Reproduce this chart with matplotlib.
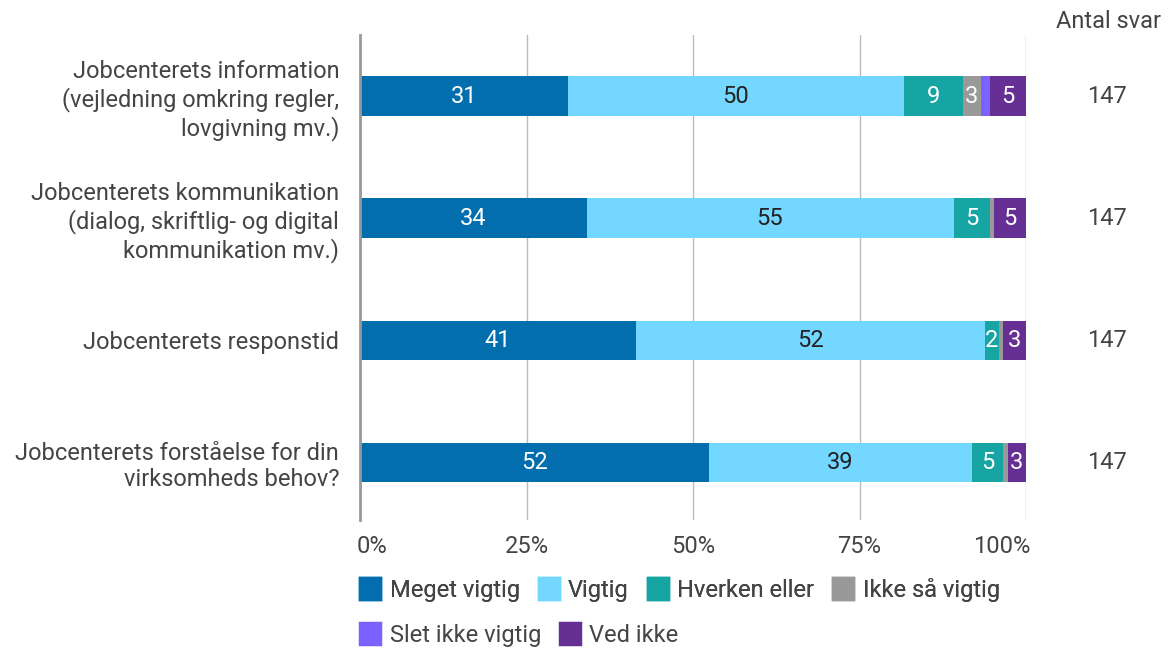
import matplotlib
matplotlib.use("Agg")
import matplotlib.pyplot as plt
import matplotlib.transforms as mtransforms
from matplotlib.patches import Patch
import numpy as np

plt.rcParams['font.family'] = ['Roboto', 'DejaVu Sans']

# 1. Data (number of answers per category, 147 per question)
questions = [
    "Jobcenterets information\n(vejledning omkring regler,\nlovgivning mv.)",
    "Jobcenterets kommunikation\n(dialog, skriftlig- og digital\nkommunikation mv.)",
    "Jobcenterets responstid",
    "Jobcenterets forståelse for din\nvirksomheds behov?",
]
series = ["Meget vigtig", "Vigtig", "Hverken eller", "Ikke så vigtig",
          "Slet ikke vigtig", "Ved ikke"]
meget_vigtig = [46, 50, 61, 77]
vigtig = [74, 81, 77, 58]
hverken_eller = [13, 8, 3, 7]
ikke_saa_vigtig = [4, 1, 1, 1]
slet_ikke_vigtig = [2, 0, 0, 0]
ved_ikke = [8, 7, 5, 4]
antal_svar = [147, 147, 147, 147]

colors = ["#036EAD", "#73D7FF", "#16A5A2", "#999999", "#7B61FF", "#652F94"]
label_colors = ["white", "#222222", "white", "white", "white", "white"]
text_col = "#444444"
fs = 17

counts = np.array([meget_vigtig, vigtig, hverken_eller, ikke_saa_vigtig,
                   slet_ikke_vigtig, ved_ikke], dtype=float)
pct = counts / np.array(antal_svar) * 100

# 2. Figure
fig = plt.figure(figsize=(11.71, 6.52), dpi=100)
ax = fig.add_axes([360 / 1171, 1 - 520 / 652, 666 / 1171, 485 / 652])

y = np.arange(len(questions))
left = np.zeros(len(questions))
for i, name in enumerate(series):
    ax.barh(y, pct[i], left=left, height=0.32, color=colors[i], label=name, zorder=3)
    for j in range(len(questions)):
        v = round(pct[i][j])
        if v >= 2:
            ax.text(left[j] + pct[i][j] / 2, y[j], str(v), ha="center", va="center",
                    color=label_colors[i], fontsize=fs, zorder=4)
    left += pct[i]

ax.set_xlim(0, 100)
ax.set_ylim(3.475, -0.5)
ax.set_xticks([0, 25, 50, 75, 100])
ax.set_xticklabels(["0%", "25%", "50%", "75%", "100%"])
ax.set_yticks(y)
ax.set_yticklabels(questions)
ax.tick_params(axis="both", length=0, labelsize=fs, labelcolor=text_col)
ax.tick_params(axis="x", pad=11)
ax.tick_params(axis="y", pad=15)
for lab in ax.get_yticklabels():
    lab.set_horizontalalignment("right")
    lab.set_multialignment("right")
xlabs = ax.get_xticklabels()
xlabs[0].set_horizontalalignment("left")
xlabs[0].set_transform(xlabs[0].get_transform()
                       + mtransforms.ScaledTranslation(-3 / 100, 0, fig.dpi_scale_trans))
xlabs[-1].set_horizontalalignment("right")
xlabs[-1].set_transform(xlabs[-1].get_transform()
                        + mtransforms.ScaledTranslation(4 / 100, 0, fig.dpi_scale_trans))

for s in ["top", "right", "bottom"]:
    ax.spines[s].set_visible(False)
ax.spines["left"].set_color("#999999")
ax.spines["left"].set_linewidth(2)
ax.spines["left"].set_zorder(5)
for xv in [25, 50, 75, 100]:
    ax.axvline(xv, color="#BBBBBB", linewidth=1, zorder=1)

# 3. Antal svar column
trans = mtransforms.blended_transform_factory(fig.transFigure, ax.transData)
for j, n in enumerate(antal_svar):
    ax.text(1107 / 1171, y[j], str(n), transform=trans, ha="center", va="center",
            fontsize=fs, color=text_col)
fig.text(1108 / 1171, 1 - 22 / 652, "Antal svar", ha="center", va="center",
         fontsize=fs, color=text_col)

# 4. Legend in two rows
handles = [Patch(facecolor=c, edgecolor=c, linewidth=2.5, joinstyle="round") for c in colors]
leg_kw = dict(frameon=False, fontsize=fs, handlelength=0.85, handleheight=1.0,
              handletextpad=0.4, columnspacing=0.8, borderaxespad=0, borderpad=0,
              labelcolor=text_col, loc="center left")
leg1 = fig.legend(handles[:4], series[:4], ncol=4,
                  bbox_to_anchor=(360 / 1171, 1 - 590 / 652), **leg_kw)
fig.add_artist(leg1)
fig.legend(handles[4:], series[4:], ncol=2,
           bbox_to_anchor=(360 / 1171, 1 - 635 / 652), **leg_kw)

fig.savefig("out.png", dpi=100)
